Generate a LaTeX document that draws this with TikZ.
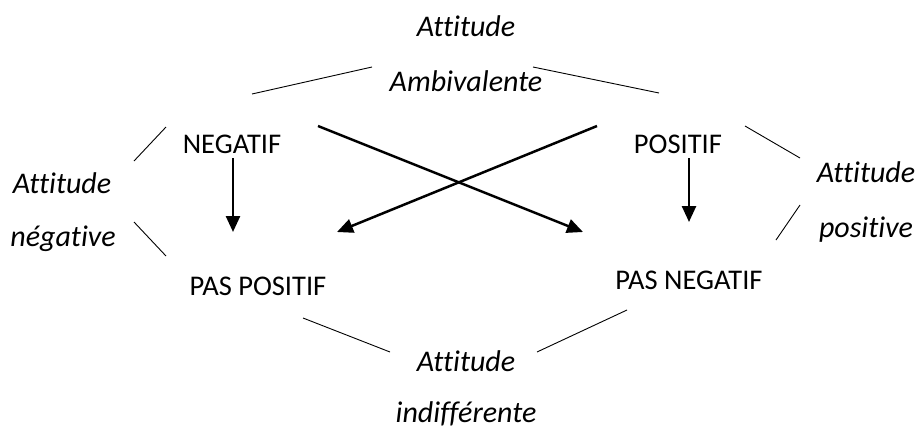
\documentclass[tikz,border=0pt]{standalone}
\usepackage{fontspec}
\setmainfont{Carlito}[Ligatures={NoCommon}]
\usetikzlibrary{arrows.meta}
\begin{document}
\begin{tikzpicture}[x=1pt,y=-1pt,
  lbl/.style={font=\fontsize{28.5}{32}\selectfont, inner sep=0pt, text height=18pt, text depth=0pt},
  ital/.style={font=\fontsize{30}{34}\selectfont\itshape, inner sep=0pt, text height=19pt, text depth=0pt},
  thinline/.style={line width=0.9pt},
  arr/.style={line width=2.5pt, -{Triangle[length=16pt,width=14pt]}}]
\useasboundingbox (0,0) rectangle (919,429);
% labels
\node[ital] (ambA) at (466,27) {Attitude};
\node[ital] (ambB) at (466,82) {Ambivalente};
\node[lbl] (neg) at (232,144) {NEGATIF};
\node[lbl] (pos) at (678,144) {POSITIF};
\node[ital] (negA) at (62,184) {Attitude};
\node[ital] (negB) at (63,237) {négative};
\node[ital] (posA) at (866,173) {Attitude};
\node[ital] (posB) at (866,228) {positive};
\node[lbl] (paspos) at (258,286) {PAS POSITIF};
\node[lbl] (pasneg) at (689,280) {PAS NEGATIF};
\node[ital] (indA) at (466,362) {Attitude};
\node[ital] (indB) at (466,413) {indifférente};
% line end points
\coordinate (t1a) at (252,94);  \coordinate (t1b) at (372,67);
\coordinate (t2a) at (533,67);  \coordinate (t2b) at (659,93);
\coordinate (l1a) at (134,161); \coordinate (l1b) at (166,127);
\coordinate (l2a) at (134,222); \coordinate (l2b) at (166,256);
\coordinate (r1a) at (745,126); \coordinate (r1b) at (800,158);
\coordinate (r2a) at (776,240); \coordinate (r2b) at (800,205);
\coordinate (b1a) at (303,318); \coordinate (b1b) at (390,352);
\coordinate (b2a) at (537,352); \coordinate (b2b) at (627,310);
\draw[thinline] (t1a) -- (t1b);
\draw[thinline] (t2a) -- (t2b);
\draw[thinline] (l1a) -- (l1b);
\draw[thinline] (l2a) -- (l2b);
\draw[thinline] (r1a) -- (r1b);
\draw[thinline] (r2a) -- (r2b);
\draw[thinline] (b1a) -- (b1b);
\draw[thinline] (b2a) -- (b2b);
% arrows
\coordinate (nA) at (233,158); \coordinate (nT) at (233,232);
\coordinate (pA) at (689,158); \coordinate (pT) at (689,222);
\coordinate (xA) at (318,126); \coordinate (xT) at (583,232);
\coordinate (yA) at (597,126); \coordinate (yT) at (337,232);
\draw[arr] (nA) -- (nT);
\draw[arr] (pA) -- (pT);
\draw[arr] (xA) -- (xT);
\draw[arr] (yA) -- (yT);
\end{tikzpicture}
\end{document}
